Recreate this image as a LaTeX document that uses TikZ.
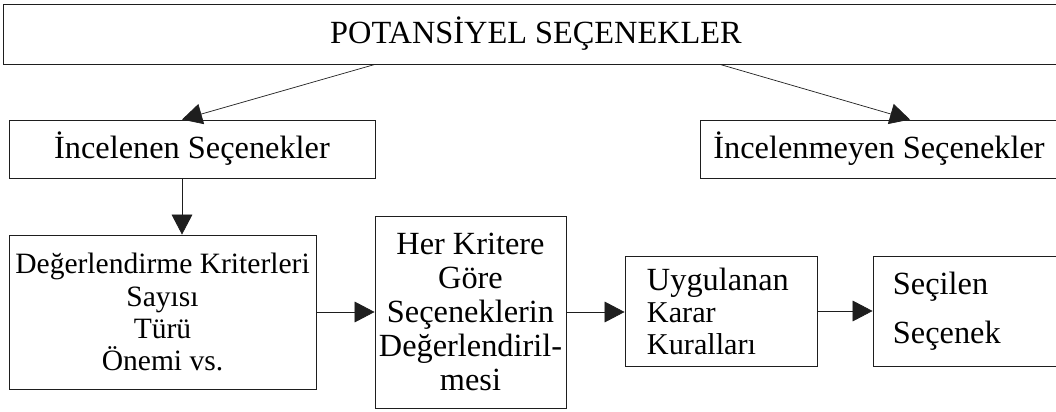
\documentclass[tikz,border=0pt]{standalone}
\usepackage{fontspec}
\setmainfont{Liberation Serif}
\usetikzlibrary{arrows.meta,positioning,calc}
\definecolor{ink}{RGB}{30,30,30}
\tikzset{
  >={Triangle[length=5mm,width=5.2mm]},
  box/.style={draw=ink,line width=0.6pt,inner sep=0pt,align=center,
    font=\fontsize{23}{22.8}\selectfont},
  leftbox/.style={box,align=left,inner xsep=#1},
  leftbox/.default=5.5mm,
  flow/.style={->,line width=0.5pt,draw=ink},
}
\begin{document}
\begin{tikzpicture}[x=0.025cm,y=-0.025cm]
  \useasboundingbox (0,0) rectangle (1056,412);
  % top row
  \node[box,minimum width=26.6cm,minimum height=1.5cm,font=\fontsize{23}{24}\selectfont] (pot) at (536,34) {POTANSİYEL SEÇENEKLER};
  \node[box,minimum width=9.15cm,minimum height=1.45cm] (inc) at (192,149) {İncelenen Seçenekler};
  \node[box,minimum width=8.95cm,minimum height=1.45cm] (incm) at (879,149) {İncelenmeyen Seçenekler};
  % bottom row
  \node[box,minimum width=7.675cm,minimum height=3.85cm,font=\fontsize{21}{22.8}\selectfont] (crit) at (162.5,312) {Değerlendirme Kriterleri\\Sayısı\\Türü\\Önemi vs.};
  \node[box,minimum width=4.775cm,minimum height=4.8cm,font=\fontsize{23}{24.3}\selectfont] (eval) at (470.5,312) {Her Kritere\\Göre\\Seçeneklerin\\Değerlendiril-\\mesi};
  \node[leftbox,minimum width=4.8cm,minimum height=2.75cm,text width=3.7cm,font=\fontsize{21.5}{22.8}\selectfont] (rules) at (721,311) {{\fontsize{23}{24}\selectfont Uygulanan}\\Karar\\Kuralları};
  \node[leftbox=5mm,minimum width=5.425cm,minimum height=2.75cm,text width=4.425cm] (chosen) at (981.5,311) {Seçilen\\[12pt]Seçenek};
  % arrows
  \draw[flow] ([xshift=-4.025cm]pot.south) -- ([xshift=-0.25cm]inc.north);
  \draw[flow] ([xshift=4.6cm]pot.south) -- ([xshift=0.775cm]incm.north);
  \draw[flow] ([xshift=-0.25cm]inc.south) -- ([xshift=-0.25cm]inc.south |- crit.north);
  \draw[flow] (crit.east) -- (eval.west);
  \draw[flow] (eval.east) -- (eval.east -| rules.west);
  \draw[flow] (rules.east) -- (chosen.west);
\end{tikzpicture}
\end{document}
